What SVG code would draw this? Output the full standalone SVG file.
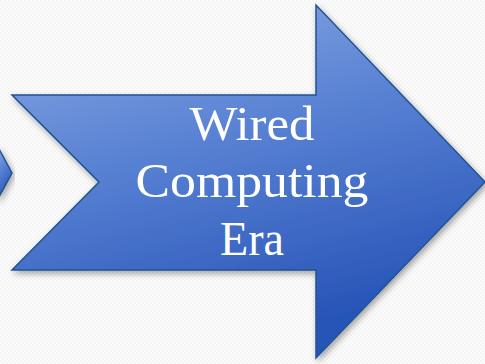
<svg xmlns="http://www.w3.org/2000/svg" width="485" height="364" viewBox="0 0 485 364">
<defs>
<linearGradient id="g" x1="0" y1="0" x2="0.35" y2="1">
<stop offset="0" stop-color="#8eaae3"/>
<stop offset="0.45" stop-color="#5a83d4"/>
<stop offset="1" stop-color="#2855b8"/>
</linearGradient>
<filter id="sh" x="-10%" y="-10%" width="130%" height="130%">
<feDropShadow dx="2" dy="3" stdDeviation="3" flood-color="#000" flood-opacity="0.35"/>
</filter>
<pattern id="bg" width="4" height="4" patternUnits="userSpaceOnUse">
<rect width="4" height="4" fill="#fcfcfc"/>
<rect width="2" height="2" fill="#f4f4f4"/>
<rect x="2" y="2" width="2" height="2" fill="#f4f4f4"/>
</pattern>
<style>
.arr{fill:url(#g);stroke:#1f5394;stroke-width:1.5;stroke-linejoin:miter;filter:url(#sh)}
.lbl{font-family:"Liberation Serif","DejaVu Serif",serif;font-size:49px;fill:#ffffff;text-anchor:middle}
</style>
</defs>
<rect width="485" height="364" fill="url(#bg)"/>
<g id="prev-arrow">
<path class="arr" d="M-2,147 L12,173 L-2,199 Z"/>
</g>
<g id="wired-arrow">
<path class="arr" d="M12,95 L316,95 L316,5 L485,182 L316,358 L316,270 L12,270 L99,182 Z"/>
<text class="lbl" x="252" y="140" textLength="125" lengthAdjust="spacingAndGlyphs">Wired</text>
<text class="lbl" x="252" y="197" textLength="233" lengthAdjust="spacingAndGlyphs">Computing</text>
<text class="lbl" x="252" y="255" textLength="64" lengthAdjust="spacingAndGlyphs">Era</text>
</g>
</svg>
